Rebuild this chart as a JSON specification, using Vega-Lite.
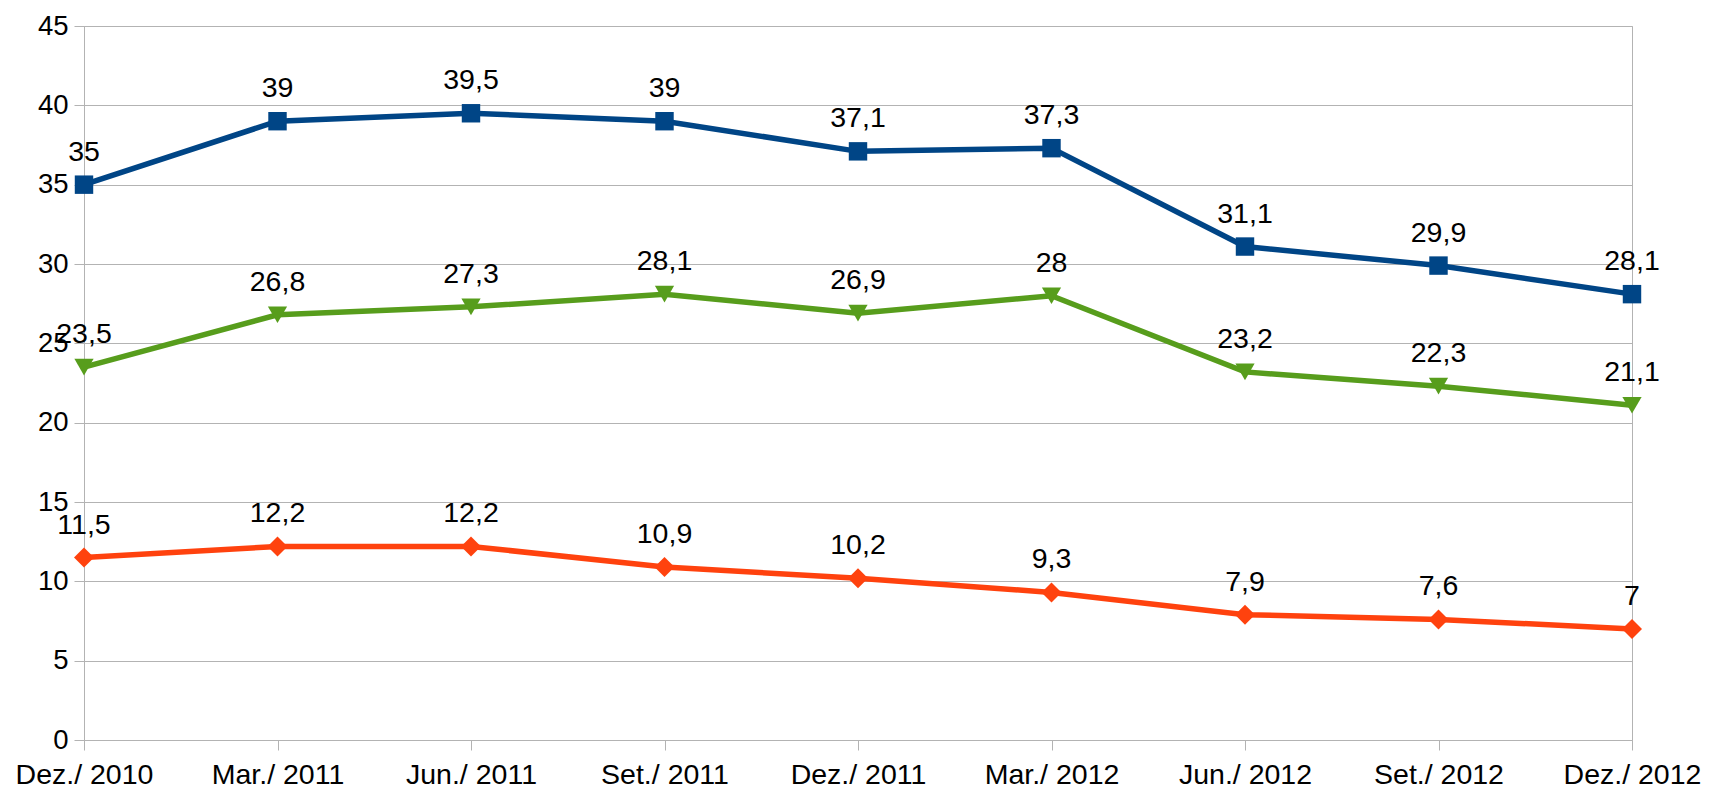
{
  "$schema": "https://vega.github.io/schema/vega-lite/v6.json",
  "autosize": {"type": "none"},
  "padding": {"left": 84, "top": 26, "right": 77, "bottom": 52},
  "width": 1548,
  "height": 714,
  "background": "white",
  "config": {
    "locale": {"number": {"decimal": ",", "thousands": ".", "grouping": [3], "currency": ["", " €"]}},
    "view": {"stroke": "#b3b3b3", "strokeWidth": 1},
    "font": "Liberation Sans"
  },
  "data": {
    "values": [
      {"periodo": "Dez./ 2010", "serie": "S1", "valor": 35},
      {"periodo": "Mar./ 2011", "serie": "S1", "valor": 39},
      {"periodo": "Jun./ 2011", "serie": "S1", "valor": 39.5},
      {"periodo": "Set./ 2011", "serie": "S1", "valor": 39},
      {"periodo": "Dez./ 2011", "serie": "S1", "valor": 37.1},
      {"periodo": "Mar./ 2012", "serie": "S1", "valor": 37.3},
      {"periodo": "Jun./ 2012", "serie": "S1", "valor": 31.1},
      {"periodo": "Set./ 2012", "serie": "S1", "valor": 29.9},
      {"periodo": "Dez./ 2012", "serie": "S1", "valor": 28.1},
      {"periodo": "Dez./ 2010", "serie": "S2", "valor": 23.5},
      {"periodo": "Mar./ 2011", "serie": "S2", "valor": 26.8},
      {"periodo": "Jun./ 2011", "serie": "S2", "valor": 27.3},
      {"periodo": "Set./ 2011", "serie": "S2", "valor": 28.1},
      {"periodo": "Dez./ 2011", "serie": "S2", "valor": 26.9},
      {"periodo": "Mar./ 2012", "serie": "S2", "valor": 28},
      {"periodo": "Jun./ 2012", "serie": "S2", "valor": 23.2},
      {"periodo": "Set./ 2012", "serie": "S2", "valor": 22.3},
      {"periodo": "Dez./ 2012", "serie": "S2", "valor": 21.1},
      {"periodo": "Dez./ 2010", "serie": "S3", "valor": 11.5},
      {"periodo": "Mar./ 2011", "serie": "S3", "valor": 12.2},
      {"periodo": "Jun./ 2011", "serie": "S3", "valor": 12.2},
      {"periodo": "Set./ 2011", "serie": "S3", "valor": 10.9},
      {"periodo": "Dez./ 2011", "serie": "S3", "valor": 10.2},
      {"periodo": "Mar./ 2012", "serie": "S3", "valor": 9.3},
      {"periodo": "Jun./ 2012", "serie": "S3", "valor": 7.9},
      {"periodo": "Set./ 2012", "serie": "S3", "valor": 7.6},
      {"periodo": "Dez./ 2012", "serie": "S3", "valor": 7}
    ]
  },
  "encoding": {
    "x": {
      "field": "periodo", "type": "ordinal", "sort": null,
      "scale": {"type": "point", "padding": 0},
      "axis": {
        "title": null, "labelAngle": 0, "labelFont": "Liberation Sans", "labelFontSize": 28.5,
        "labelColor": "#000000", "tickColor": "#b3b3b3", "tickSize": 10, "labelPadding": 10,
        "domainColor": "#b3b3b3", "grid": false, "labelOverlap": false
      }
    },
    "y": {
      "field": "valor", "type": "quantitative",
      "scale": {"domain": [0, 45], "nice": false, "zero": true},
      "axis": {
        "title": null, "values": [0,5,10,15,20,25,30,35,40,45], "labelFont": "Liberation Sans",
        "labelFontSize": 27.5, "labelColor": "#000000", "tickColor": "#b3b3b3", "tickSize": 10,
        "labelPadding": 6, "domainColor": "#b3b3b3", "grid": true, "gridColor": "#b3b3b3", "gridOpacity": 1
      }
    },
    "color": {
      "field": "serie", "type": "nominal", "legend": null,
      "scale": {"domain": ["S1", "S2", "S3"], "range": ["#004586", "#579d1c", "#ff420e"]}
    }
  },
  "layer": [
    {"mark": {"type": "line", "strokeWidth": 5.5}},
    {
      "mark": {"type": "point", "filled": true, "opacity": 1},
      "encoding": {
        "shape": {
          "field": "serie", "type": "nominal", "legend": null,
          "scale": {"domain": ["S1", "S2", "S3"], "range": ["square", "triangle-down", "diamond"]}
        },
        "size": {
          "field": "serie", "type": "nominal", "legend": null,
          "scale": {"domain": ["S1", "S2", "S3"], "range": [340, 400, 320]}
        }
      }
    },
    {
      "mark": {"type": "text", "font": "Liberation Sans", "fontSize": 28.5, "baseline": "alphabetic", "dy": -24, "color": "#000000"},
      "encoding": {
        "text": {"field": "valor", "type": "quantitative", "format": "~g"},
        "color": {"value": "#000000"}
      }
    }
  ]
}
